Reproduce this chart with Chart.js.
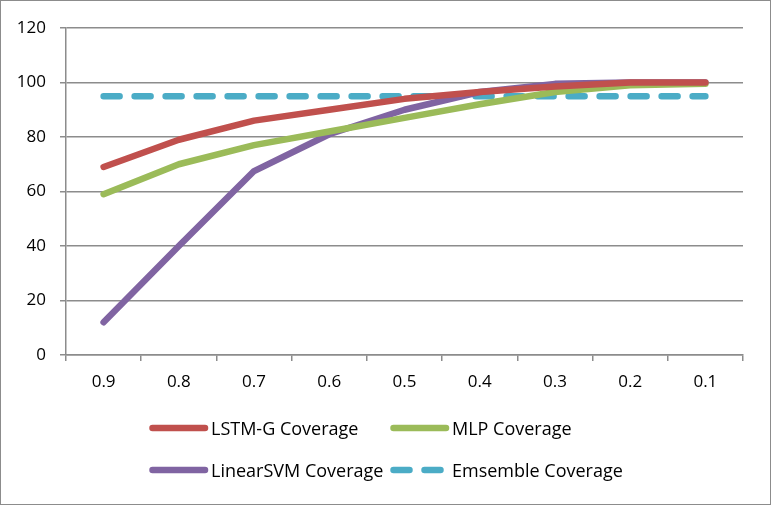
<!DOCTYPE html>
<html>
<head>
<meta charset="utf-8">
<script src="https://cdn.jsdelivr.net/npm/chart.js@4"></script>
<style>
  body { margin: 0; background: #fff; }
  #wrap { width: 771px; height: 505px; }
</style>
</head>
<body>
<div id="wrap"><canvas id="myChart" width="771" height="505"></canvas></div>
<script>
// data
const categories = ['0.9', '0.8', '0.7', '0.6', '0.5', '0.4', '0.3', '0.2', '0.1'];
const lstmG = [69, 79, 86, 90, 94, 96.5, 98.5, 100, 100];
const mlp = [59, 70, 77, 82, 87, 92, 96.5, 99, 99.5];
const linearSvm = [12, 40, 67.5, 81, 90, 96.5, 99.5, 100, 100];
const ensemble = [95, 95, 95, 95, 95, 95, 95, 95, 95];
const seriesNames = ['LSTM-G Coverage', 'MLP Coverage', 'LinearSVM Coverage', 'Emsemble Coverage'];

const FONT = '"Open Sans", "Noto Sans", sans-serif';

// legend laid out in a 2x2 grid like the original
const gridLegend = {
    id: 'gridLegend',
    beforeDraw(chart) {
        const ctx = chart.ctx;
        ctx.save();
        ctx.fillStyle = '#fff';
        ctx.fillRect(0, 0, chart.width, chart.height);
        ctx.restore();
    },
    afterDraw(chart) {
        const ctx = chart.ctx;
        const cols = [149, 390];
        const rows = [428, 470];
        ctx.save();
        chart.data.datasets.forEach((ds, i) => {
            const x = cols[i % 2];
            const y = rows[Math.floor(i / 2)];
            ctx.strokeStyle = ds.borderColor;
            ctx.lineWidth = ds.borderWidth;
            ctx.lineCap = 'round';
            ctx.setLineDash(ds.borderDash || []);
            ctx.beginPath();
            ctx.moveTo(x + 3.5, y);
            ctx.lineTo(x + 56, y);
            ctx.stroke();
            ctx.setLineDash([]);
            ctx.fillStyle = '#000';
            ctx.font = '18px ' + FONT;
            ctx.textBaseline = 'middle';
            ctx.fillText(ds.label, x + 62, y + 2);
        });
        // outer frame
        ctx.strokeStyle = '#8c8c8c';
        ctx.lineWidth = 1;
        ctx.strokeRect(0.5, 0.5, chart.width - 1, chart.height - 1);
        ctx.restore();
    }
};

function line(label, data, color, dash) {
    return {
        label: label,
        data: data,
        borderColor: color,
        backgroundColor: color,
        borderWidth: 6.5,
        borderDash: dash,
        borderCapStyle: 'round',
        borderJoinStyle: 'round',
        pointRadius: 0,
        tension: 0,
        fill: false
    };
}

new Chart(document.getElementById('myChart'), {
    type: 'line',
    data: {
        labels: categories,
        datasets: [
            line(seriesNames[0], lstmG, '#C0504D'),
            line(seriesNames[1], mlp, '#9BBB59'),
            line(seriesNames[2], linearSvm, '#8064A2'),
            line(seriesNames[3], ensemble, '#4BACC6', [16, 15])
        ]
    },
    options: {
        responsive: false,
        animation: false,
        layout: { padding: { left: 0, top: 28, right: 28, bottom: 110 } },
        plugins: { legend: { display: false }, tooltip: { enabled: false } },
        scales: {
            x: {
                offset: true,
                grid: { display: true, drawOnChartArea: false, color: '#8c8c8c', lineWidth: 1.5, tickLength: 6, offset: true },
                border: { color: '#8c8c8c', width: 1.5 },
                ticks: { color: '#000', font: { family: FONT, size: 17 }, padding: 11, maxRotation: 0 },
                afterFit(scale) { scale.height = 40; }
            },
            y: {
                min: 0,
                max: 120,
                ticks: { stepSize: 20, color: '#000', font: { family: FONT, size: 17 }, padding: 14 },
                grid: { color: '#8c8c8c', lineWidth: 1.5, tickLength: 6 },
                border: { color: '#8c8c8c', width: 1.5 },
                afterFit(scale) { scale.width = 66; }
            }
        }
    },
    plugins: [gridLegend]
});
</script>
</body>
</html>
